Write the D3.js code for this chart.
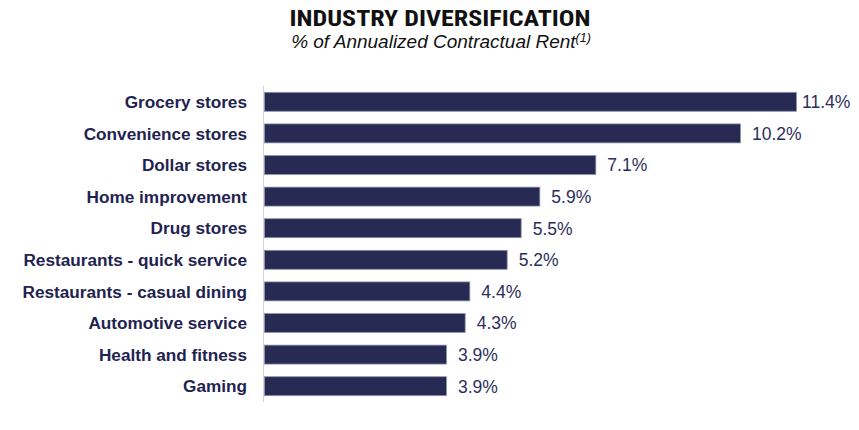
<!DOCTYPE html>
<html>
<head>
<meta charset="utf-8">
<script src="https://cdn.jsdelivr.net/npm/d3@7"></script>
<style>
  html, body { margin: 0; padding: 0; background: #fff; }
  svg { display: block; }
</style>
</head>
<body>
<svg id="chart" width="859" height="430"></svg>
<script>
// data
const categories = [
  'Grocery stores', 'Convenience stores', 'Dollar stores', 'Home improvement',
  'Drug stores', 'Restaurants - quick service', 'Restaurants - casual dining',
  'Automotive service', 'Health and fitness', 'Gaming'
];
const shares = [11.4, 10.2, 7.1, 5.9, 5.5, 5.2, 4.4, 4.3, 3.9, 3.9];
const titleText = 'INDUSTRY DIVERSIFICATION';
const subtitleText = '% of Annualized Contractual Rent';

const NAVY = '#272a52';
const TEXT = '#1f2350';

const svg = d3.select('#chart');

const x = d3.scaleLinear().domain([0, d3.max(shares)]).range([264, 796]);
const y = d3.scaleBand().domain(categories).range([86, 402])
  .paddingInner(0.4).paddingOuter(0.2);

// title
svg.append('text')
  .attr('x', 440).attr('y', 25.5)
  .attr('text-anchor', 'middle')
  .attr('font-family', '"Liberation Sans Narrow", "Roboto Condensed", Arial, sans-serif')
  .attr('font-weight', 'bold')
  .attr('font-size', 21.5)
  .attr('fill', '#111')
  .attr('textLength', 301)
  .attr('lengthAdjust', 'spacingAndGlyphs')
  .text(titleText);

const sub = svg.append('text')
  .attr('x', 441).attr('y', 47.5)
  .attr('text-anchor', 'middle')
  .attr('font-family', '"Liberation Sans", Arial, sans-serif')
  .attr('font-style', 'italic')
  .attr('font-size', 19)
  .attr('fill', '#111');
sub.append('tspan').text(subtitleText);
sub.append('tspan').attr('dy', -6).attr('font-size', 12.5).text('(1)');

// axis line
svg.append('line')
  .attr('x1', 263.5).attr('x2', 263.5)
  .attr('y1', y.range()[0]).attr('y2', y.range()[1])
  .attr('stroke', '#d4d4d4')
  .attr('stroke-width', 1);

// bars
svg.append('g')
  .selectAll('rect')
  .data(shares)
  .join('rect')
  .attr('x', x(0) + 0.5)
  .attr('y', (d, i) => y(categories[i]))
  .attr('width', d => x(d) - x(0))
  .attr('height', y.bandwidth())
  .attr('fill', NAVY)
  .attr('stroke', '#8f92ad')
  .attr('stroke-width', 0.8);

// category labels
svg.append('g')
  .selectAll('text')
  .data(categories)
  .join('text')
  .attr('x', 247)
  .attr('y', d => y(d) + y.bandwidth() / 2)
  .attr('dy', '0.36em')
  .attr('text-anchor', 'end')
  .attr('font-family', '"Liberation Sans", Arial, sans-serif')
  .attr('font-weight', 'bold')
  .attr('font-size', 17.2)
  .attr('fill', TEXT)
  .text(d => d);

// value labels
svg.append('g')
  .selectAll('text')
  .data(shares)
  .join('text')
  .attr('x', (d, i) => x(d) + (i === 0 ? 6 : 12))
  .attr('y', (d, i) => y(categories[i]) + y.bandwidth() / 2)
  .attr('dy', '0.36em')
  .attr('font-family', '"Liberation Sans", Arial, sans-serif')
  .attr('font-size', 17.5)
  .attr('fill', '#2b2e5c')
  .text(d => d3.format('.1f')(d) + '%');
</script>
</body>
</html>
